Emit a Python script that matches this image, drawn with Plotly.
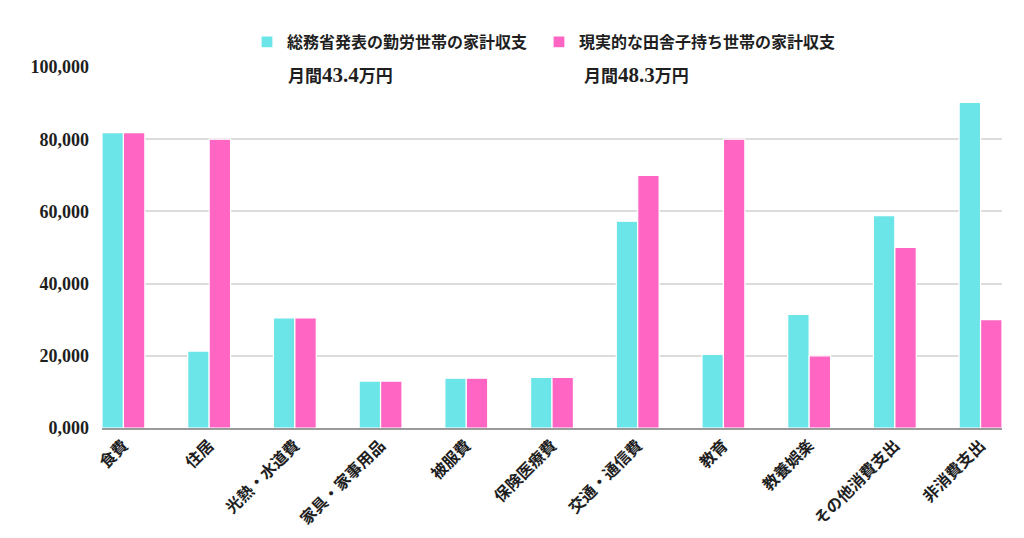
import plotly.graph_objects as go

categories = ["食費", "住居", "光熱・水道費", "家具・家事用品", "被服費", "保険医療費",
              "交通・通信費", "教育", "教養娯楽", "その他消費支出", "非消費支出"]
official = [81800, 21300, 30500, 13000, 13800, 14000, 57300, 20400, 31500, 58800, 90200]
realistic = [81800, 80000, 30500, 13000, 13800, 14000, 70000, 80000, 20000, 50000, 30000]
series_names = ["総務省発表の勤労世帯の家計収支", "現実的な田舎子持ち世帯の家計収支"]
monthly_amounts = ["43.4", "48.3"]
y_ticks = [0, 20000, 40000, 60000, 80000, 100000]
y_ticktext = ["0,000", "20,000", "40,000", "60,000", "80,000", "100,000"]

CYAN = "#6CE5E8"
PINK = "#FF66C4"
TXT = "#1f1f1f"
JP = "Liberation Serif, Noto Sans CJK JP, sans-serif"

fig = go.Figure()
fig.add_trace(go.Bar(x=categories, y=official, name=series_names[0],
                     marker=dict(color=CYAN, line=dict(color="white", width=1.2)),
                     legend="legend"))
fig.add_trace(go.Bar(x=categories, y=realistic, name=series_names[1],
                     marker=dict(color=PINK, line=dict(color="white", width=1.2)),
                     legend="legend2"))

L, R, T, B = 102, 22, 67, 110
PW, PH = 1024 - L - R, 538 - T - B

def px_x(p):
    return (p - L) / PW

def px_y(p):
    return 1 - (p - T) / PH

legend_common = dict(orientation="h", yanchor="middle", xanchor="left",
                     font=dict(family=JP, size=16, color=TXT, weight="bold"),
                     bgcolor="rgba(0,0,0,0)", borderwidth=0)

def subtitle(amount):
    return "月間<span style='font-size:21px'>" + amount + "</span>万円"

fig.update_layout(
    width=1024, height=538,
    margin=dict(l=L, r=R, t=T, b=B, autoexpand=False),
    paper_bgcolor="white", plot_bgcolor="white",
    barmode="group", bargap=0.5, bargroupgap=0.0,
    showlegend=True,
    legend=dict(x=px_x(247), y=px_y(42), **legend_common),
    legend2=dict(x=px_x(539), y=px_y(42), **legend_common),
    xaxis=dict(range=[-0.25, 10.25], tickangle=-45, showgrid=False,
               showline=True, linecolor="#9a9a9a", linewidth=1.5, ticks="",
               tickfont=dict(family=JP, size=16, color=TXT, weight="bold")),
    yaxis=dict(range=[0, 100000], tickvals=y_ticks, ticktext=y_ticktext,
               showgrid=True, gridcolor="#dcdcdc", gridwidth=1.5,
               zeroline=False, showline=False, ticks="", ticklabelstandoff=12,
               tickfont=dict(family="Liberation Serif, serif", size=18, color=TXT, weight="bold")),
    shapes=[dict(type="rect", xref="paper", yref="paper", layer="above",
                 x0=px_x(257), x1=px_x(850), y0=px_y(72), y1=px_y(62),
                 fillcolor="white", line=dict(width=0))],
    annotations=[
        dict(text=subtitle(monthly_amounts[0]), xref="paper", yref="paper", x=px_x(286), y=px_y(75),
             xanchor="left", yanchor="middle", showarrow=False,
             font=dict(family=JP, size=17, color=TXT, weight="bold")),
        dict(text=subtitle(monthly_amounts[1]), xref="paper", yref="paper", x=px_x(582), y=px_y(75),
             xanchor="left", yanchor="middle", showarrow=False,
             font=dict(family=JP, size=17, color=TXT, weight="bold")),
    ],
)

fig.write_html("out.html")
